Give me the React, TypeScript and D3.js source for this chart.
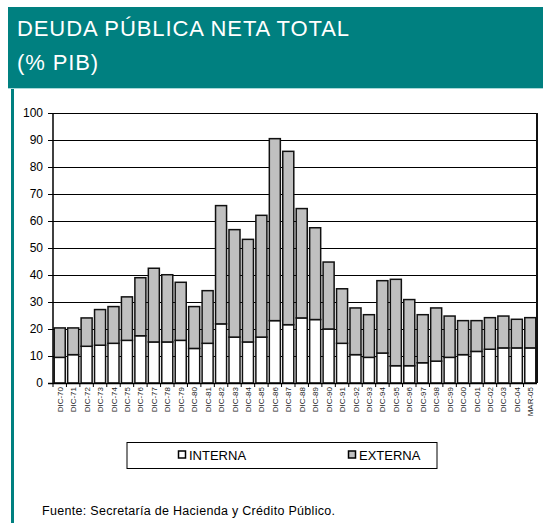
import React from "react";
import * as d3 from "d3";

const categories = [
  "DIC-70","DIC-71","DIC-72","DIC-73","DIC-74","DIC-75","DIC-76","DIC-77","DIC-78","DIC-79",
  "DIC-80","DIC-81","DIC-82","DIC-83","DIC-84","DIC-85","DIC-86","DIC-87","DIC-88","DIC-89",
  "DIC-90","DIC-91","DIC-92","DIC-93","DIC-94","DIC-95","DIC-96","DIC-97","DIC-98","DIC-99",
  "DIC-00","DIC-01","DIC-02","DIC-03","DIC-04","MAR-05",
];
const interna = [
  9.5, 10.5, 13.6, 14.0, 14.7, 15.8, 17.5, 15.2, 15.2, 15.8,
  12.8, 14.7, 21.9, 17.0, 15.2, 17.0, 23.1, 21.6, 24.1, 23.5,
  20.0, 14.7, 10.5, 9.5, 11.1, 6.4, 6.4, 7.5, 8.1, 9.5,
  10.5, 11.7, 12.5, 13.0, 13.0, 13.0,
];
const externa = [
  10.9, 9.9, 10.5, 13.2, 13.6, 16.1, 21.5, 27.3, 24.9, 21.5,
  15.5, 19.5, 43.8, 39.8, 38.0, 45.1, 67.4, 64.2, 40.5, 34.0,
  24.8, 20.2, 17.3, 15.8, 26.8, 32.0, 24.5, 17.8, 19.7, 15.3,
  12.6, 11.4, 11.7, 11.8, 10.6, 11.2,
];
const yTicks = [0, 10, 20, 30, 40, 50, 60, 70, 80, 90, 100];
const seriesNames = ["INTERNA", "EXTERNA"];
const titleLines = ["DEUDA PÚBLICA NETA TOTAL", "(% PIB)"];
const sourceText = "Fuente: Secretaría de Hacienda y Crédito Público.";

const TEAL = "#008080";
const GRAY = "#c0c0c0";
const FONT = "Liberation Sans, Arial, sans-serif";

export default function App() {
  const W = 543, H = 523;
  const left = 53, right = 537, top = 113, bottom = 383;
  const x = d3.scaleBand<string>().domain(categories).range([left, right]).paddingInner(0.18).paddingOuter(0.09);
  const y = d3.scaleLinear().domain([0, 100]).range([bottom, top]);
  const step = x.step();
  const colors = ["#ffffff", GRAY];

  return (
    <svg width={W} height={H} style={{ position: "absolute", left: 0, top: 0, background: "#fff" }} fontFamily={FONT}>
      {/* header */}
      <rect x={8} y={7} width={W - 8} height={81} fill={TEAL} />
      <line x1={8} x2={W} y1={88.5} y2={88.5} stroke="#a8d8d8" strokeWidth={1} />
      <rect x={11} y={89} width={3} height={H - 89} fill={TEAL} />
      {titleLines.map((t, i) => (
        <text key={i} x={17} y={36 + i * 34} fill="#ffffff" fontSize={22} letterSpacing={0.9}>{t}</text>
      ))}

      {/* gridlines */}
      {yTicks.filter(v => v > 0).map(v => (
        <line key={v} x1={left} x2={right} y1={Math.round(y(v)) + 0.5} y2={Math.round(y(v)) + 0.5} stroke="#000" strokeWidth={1} />
      ))}
      {/* right border */}
      <line x1={right} x2={right} y1={top} y2={bottom} stroke="#111" strokeWidth={2} />

      {/* bars */}
      {categories.map((c, i) => {
        const segs = [
          { y0: 0, y1: interna[i] },
          { y0: interna[i], y1: interna[i] + externa[i] },
        ];
        return (
          <g key={c}>
            {segs.map((s, j) => (
              <rect key={j} x={x(c)} y={y(s.y1)} width={x.bandwidth()} height={y(s.y0) - y(s.y1)}
                fill={colors[j]} stroke="#111" strokeWidth={1.5} />
            ))}
          </g>
        );
      })}

      {/* y axis */}
      <line x1={left} x2={left} y1={top} y2={bottom} stroke="#000" strokeWidth={1.5} />
      {yTicks.map(v => (
        <g key={v}>
          <line x1={left - 5} x2={left} y1={Math.round(y(v)) + 0.5} y2={Math.round(y(v)) + 0.5} stroke="#000" strokeWidth={1} />
          <text x={43} y={y(v) + 4} textAnchor="end" fontSize={12} fill="#000">{v}</text>
        </g>
      ))}
      {/* x axis */}
      <line x1={left - 5} x2={right} y1={bottom + 0.5} y2={bottom + 0.5} stroke="#000" strokeWidth={1.5} />
      {categories.map((c, i) => (
        <line key={"t" + c} x1={left + i * step} x2={left + i * step} y1={bottom} y2={bottom + 4} stroke="#000" strokeWidth={1} />
      ))}
      {categories.map(c => {
        const cx = (x(c) as number) + x.bandwidth() / 2 + 3;
        return (
          <text key={"l" + c} transform={`translate(${cx},387) rotate(-90)`} textAnchor="end" fontSize={8} fill="#222">{c}</text>
        );
      })}

      {/* legend */}
      <rect x={127} y={442.5} width={310} height={26} fill="#fff" stroke="#000" strokeWidth={1} />
      {seriesNames.map((n, i) => {
        const lx = i === 0 ? 182 : 352;
        return (
          <g key={n}>
            <rect x={lx - 3.5} y={451} width={7} height={7} fill={colors[i]} stroke="#000" strokeWidth={1.5} />
            <text x={lx + 7} y={459.5} fontSize={13} fill="#000">{n}</text>
          </g>
        );
      })}

      {/* source */}
      <text x={42} y={515} fontSize={12.5} letterSpacing={0.3} fill="#000">{sourceText}</text>
    </svg>
  );
}
